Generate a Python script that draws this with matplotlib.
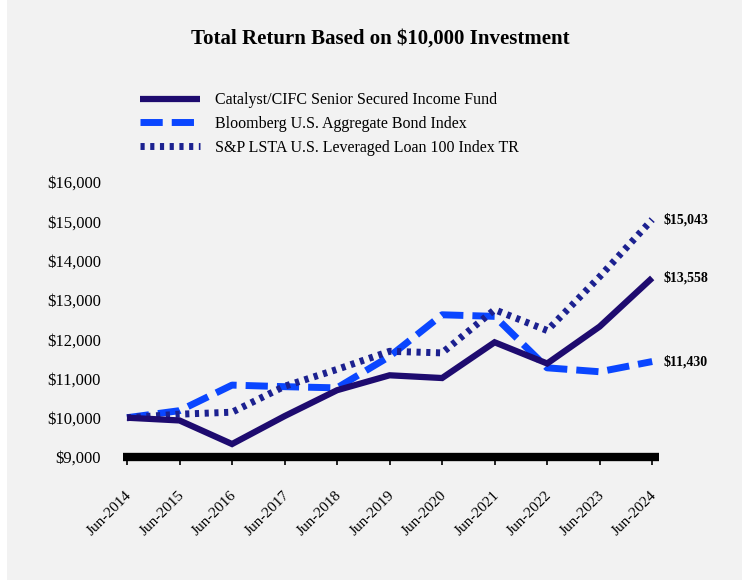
import matplotlib
matplotlib.use("Agg")
import matplotlib.pyplot as plt
from matplotlib.patches import Rectangle
from matplotlib.transforms import ScaledTranslation

years = ["Jun-2014", "Jun-2015", "Jun-2016", "Jun-2017", "Jun-2018", "Jun-2019",
         "Jun-2020", "Jun-2021", "Jun-2022", "Jun-2023", "Jun-2024"]
fund = [10000, 9930, 9330, 10040, 10700, 11080, 11010, 11920, 11380, 12320, 13558]
bond = [10000, 10180, 10830, 10790, 10760, 11560, 12620, 12580, 11270, 11170, 11430]
loan = [10000, 10090, 10140, 10800, 11230, 11690, 11650, 12750, 12220, 13590, 15043]
names = ["Catalyst/CIFC Senior Secured Income Fund",
         "Bloomberg U.S. Aggregate Bond Index",
         "S&P LSTA U.S. Leveraged Loan 100 Index TR"]
end_labels = ["$13,558", "$11,430", "$15,043"]
yticks = [9000, 10000, 11000, 12000, 13000, 14000, 15000, 16000]

plt.rcParams['font.family'] = ['Liberation Serif', 'DejaVu Serif']

fig = plt.figure(figsize=(7.42, 5.8), dpi=100)
fig.patch.set_facecolor("white")
fig.add_artist(Rectangle((7/742, 0), 1, 1, transform=fig.transFigure,
                         facecolor="#f2f2f2", edgecolor="none", zorder=-10))

ax = fig.add_axes([123/742, 1-457/580, (659-123)/742, (457-182)/580])
ax.set_facecolor("none")

x = list(range(len(years)))
c_fund, c_bond, c_loan = "#1e0b6f", "#0a46ff", "#1c2190"
l1, = ax.plot(x, fund, color=c_fund, lw=4.5, solid_capstyle="butt", solid_joinstyle="miter", zorder=3)
l2, = ax.plot(x, bond, color=c_bond, lw=5.0, dashes=(3.2, 1.3), dash_capstyle="butt", zorder=2)
l3, = ax.plot(x, loan, color=c_loan, lw=5.0, dashes=(0.6, 0.8), dash_capstyle="butt", zorder=2)

ax.set_xlim(-0.076, 10.13)
ax.set_ylim(9000, 16000)
ax.set_yticks(yticks)
ax.set_yticklabels([f"${v:,.0f}" for v in yticks], fontsize=12)
ax.tick_params(axis="y", length=0, pad=16)
ax.set_xticks(x)
ax.set_xticklabels(years, rotation=45, ha="right", rotation_mode="anchor", fontsize=11)
ax.tick_params(axis="x", length=6, width=1.2, pad=17, direction="out")
off = ScaledTranslation(-2/100, 0, fig.dpi_scale_trans)
for lab in ax.get_xticklabels():
    lab.set_transform(lab.get_transform() + off)
for s in ["top", "right", "left"]:
    ax.spines[s].set_visible(False)
ax.spines["bottom"].set_linewidth(6)
ax.spines["bottom"].set_color("black")
ax.spines["bottom"].set_capstyle("butt")

for v, lab in zip([fund[-1], bond[-1], loan[-1]], end_labels):
    ax.annotate(lab, xy=(x[-1], v), xytext=(8, 0), textcoords="offset points",
                fontsize=10, fontweight="bold", va="center", ha="left")

fig.text(380/742, 1-39/580, "Total Return Based on $10,000 Investment",
         fontsize=15, fontweight="bold", ha="center", va="center")

leg = fig.legend([l1, l2, l3], names, loc="upper left",
                 bbox_to_anchor=(126/742, 1-78/580), frameon=False,
                 fontsize=11.5, handlelength=3.75, handletextpad=0.95,
                 labelspacing=0.48)

fig.savefig("out.png", dpi=100, facecolor=fig.get_facecolor())
